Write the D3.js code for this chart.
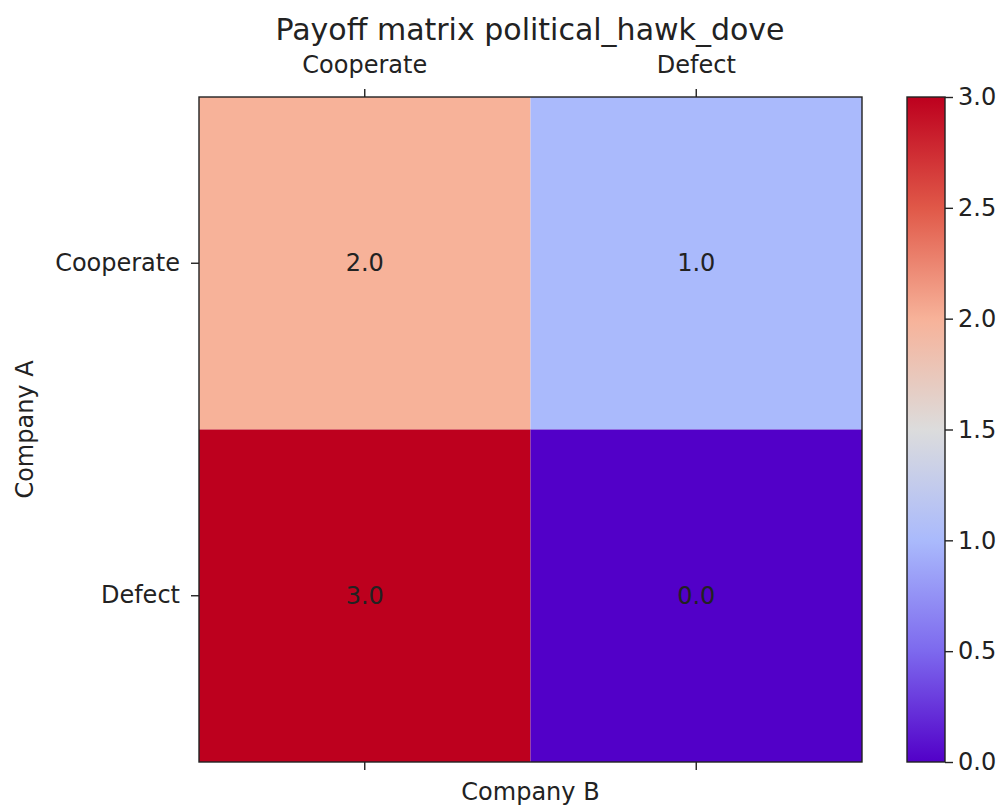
<!DOCTYPE html>
<html>
<head>
<meta charset="utf-8">
<script src="https://cdn.jsdelivr.net/npm/d3@7"></script>
<style>
  html, body { margin: 0; padding: 0; background: #fff; }
  svg { display: block; font-family: "DejaVu Sans", sans-serif; }
</style>
</head>
<body>
<svg id="chart" width="1002" height="807"></svg>
<script>
// ---- data ----
const title = "Payoff matrix political_hawk_dove";
const colLabels = ["Cooperate", "Defect"];   // Company B
const rowLabels = ["Cooperate", "Defect"];   // Company A
const payoffs = [
  [2.0, 1.0],
  [3.0, 0.0]
];
const colorbarTicks = [0.0, 0.5, 1.0, 1.5, 2.0, 2.5, 3.0];
const colorStops = [0, 0.5, 1.0, 1.5, 2.0, 2.5, 3.0];
const colorValues = ["#5200c8", "#7d69ee", "#aabafc", "#dcdcdc", "#f7b299", "#e05848", "#bd001e"];

// ---- layout ----
const svg = d3.select("#chart");
const L = 199, R = 862, T = 97, B = 762;
const cbLeft = 907, cbRight = 945;
const fs = 24;
const textColor = "#222";

const x = d3.scaleBand().domain(colLabels).range([L, R]);
const y = d3.scaleBand().domain(rowLabels).range([T, B]);
const color = d3.scaleLinear().domain(colorStops).range(colorValues).interpolate(d3.interpolateRgb);

const cells = [];
payoffs.forEach((row, i) => row.forEach((v, j) => cells.push({r: rowLabels[i], c: colLabels[j], v})));

svg.selectAll("rect.cell").data(cells).enter().append("rect")
  .attr("class", "cell")
  .attr("x", d => x(d.c)).attr("y", d => y(d.r))
  .attr("width", x.bandwidth()).attr("height", y.bandwidth())
  .attr("fill", d => color(d.v));

svg.selectAll("text.ann").data(cells).enter().append("text")
  .attr("class", "ann")
  .attr("x", d => x(d.c) + x.bandwidth() / 2)
  .attr("y", d => y(d.r) + y.bandwidth() / 2)
  .attr("text-anchor", "middle").attr("dominant-baseline", "central")
  .attr("font-size", fs).attr("fill", textColor)
  .text(d => d.v.toFixed(1));

// frame
svg.append("rect").attr("x", L).attr("y", T).attr("width", R - L).attr("height", B - T)
  .attr("fill", "none").attr("stroke", "#222").attr("stroke-width", 1.4);

function styleAxis(g) {
  g.selectAll(".domain").remove();
  g.selectAll(".tick line").attr("stroke", "#222").attr("stroke-width", 1.4);
  g.selectAll(".tick text").attr("font-size", fs).attr("fill", textColor).attr("font-family", "DejaVu Sans, sans-serif");
}

svg.append("g").attr("transform", `translate(0,${T})`)
  .call(d3.axisTop(x).tickSize(8).tickPadding(16)).call(styleAxis);
svg.append("g").attr("transform", `translate(0,${B})`)
  .call(d3.axisBottom(x).tickSize(8).tickFormat("")).call(styleAxis);
svg.append("g").attr("transform", `translate(${L},0)`)
  .call(d3.axisLeft(y).tickSize(8).tickPadding(11)).call(styleAxis);

// title & labels
svg.append("text").attr("x", 530).attr("y", 40).attr("text-anchor", "middle")
  .attr("font-size", 30).attr("fill", textColor).text(title);
svg.append("text").attr("x", (L + R) / 2).attr("y", 800).attr("text-anchor", "middle")
  .attr("font-size", fs).attr("fill", textColor).text("Company B");
svg.append("text").attr("transform", `translate(33,${(T + B) / 2}) rotate(-90)`).attr("text-anchor", "middle")
  .attr("font-size", fs).attr("fill", textColor).text("Company A");

// colorbar
const cbScale = d3.scaleLinear().domain([0, 3]).range([B, T]);
const defs = svg.append("defs");
const grad = defs.append("linearGradient").attr("id", "cbgrad")
  .attr("x1", 0).attr("y1", 1).attr("x2", 0).attr("y2", 0);
grad.selectAll("stop").data(colorStops).enter().append("stop")
  .attr("offset", d => d / 3).attr("stop-color", d => color(d));
svg.append("rect").attr("x", cbLeft).attr("y", T).attr("width", cbRight - cbLeft).attr("height", B - T)
  .attr("fill", "url(#cbgrad)").attr("stroke", "#222").attr("stroke-width", 1.4);
svg.append("g").attr("transform", `translate(${cbRight},0)`)
  .call(d3.axisRight(cbScale).tickValues(colorbarTicks).tickFormat(d3.format(".1f")).tickSize(8).tickPadding(5))
  .call(styleAxis);
</script>
</body>
</html>
